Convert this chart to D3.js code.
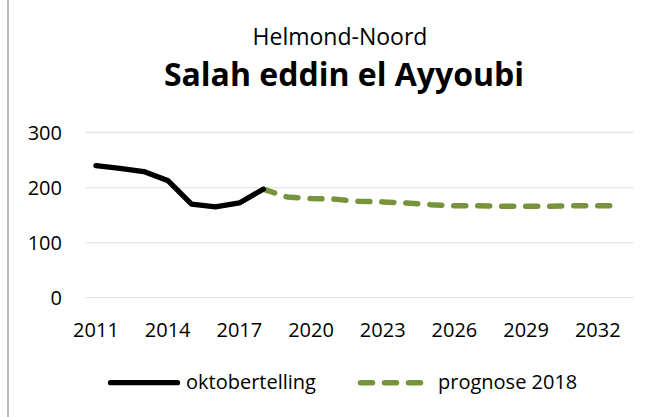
<!DOCTYPE html>
<html>
<head>
<meta charset="utf-8">
<script src="https://cdn.jsdelivr.net/npm/d3@7"></script>
<style>
  html, body { margin: 0; padding: 0; background: #fff; }
  svg { display: block; }
  text { font-family: "Open Sans", "Noto Sans", sans-serif; fill: #000; }
</style>
</head>
<body>
<svg id="chart" width="656" height="417"></svg>
<script>
// ---- data ----
const years = [2011, 2012, 2013, 2014, 2015, 2016, 2017, 2018, 2019, 2020, 2021, 2022,
               2023, 2024, 2025, 2026, 2027, 2028, 2029, 2030, 2031, 2032, 2033];
const tellingYears = [2011, 2012, 2013, 2014, 2015, 2016, 2017, 2018];
const tellingValues = [240, 235, 229, 213, 170, 165, 172, 197];
const prognoseYears = [2018, 2019, 2020, 2021, 2022, 2023, 2024, 2025, 2026, 2027,
                       2028, 2029, 2030, 2031, 2032, 2033];
const prognoseValues = [197, 183, 180, 179, 175, 174, 172, 169, 167, 167,
                        166, 166, 166, 167, 167, 167];
const xTickLabels = [2011, 2014, 2017, 2020, 2023, 2026, 2029, 2032];
const yTickLabels = [0, 100, 200, 300];
const subtitle = "Helmond-Noord";
const title = "Salah eddin el Ayyoubi";
const seriesNames = ["oktobertelling", "prognose 2018"];

(function () {
// ---- layout ----
const svg = d3.select("#chart");
const plotLeft = 84, plotRight = 633.6, plotTop = 132.5, plotBottom = 297.7;
const green = "#77933C";

// chart area left border
svg.append("line").attr("x1", 8).attr("x2", 8).attr("y1", 0).attr("y2", 417)
  .attr("stroke", "#a6a6a6").attr("stroke-width", 1.5);

const x = d3.scaleBand().domain(years).range([plotLeft, plotRight]);
const y = d3.scaleLinear().domain([0, 300]).range([plotBottom, plotTop]);
const cx = d => x(d) + x.bandwidth() / 2;

// gridlines
svg.append("g").selectAll("line").data(yTickLabels).join("line")
  .attr("x1", plotLeft + 1).attr("x2", plotRight)
  .attr("y1", d => y(d)).attr("y2", d => y(d))
  .attr("stroke", "#e6e6e6").attr("stroke-width", 1.3);

// y axis
const yAxis = svg.append("g").attr("transform", `translate(${62},0)`)
  .call(d3.axisLeft(y).tickValues(yTickLabels).tickSize(0).tickPadding(0));
yAxis.select(".domain").remove();
yAxis.selectAll("text").style("font-size", "20px").style("font-family", '"Open Sans", sans-serif')
  .attr("fill", "#000").attr("dy", "0.35em");

// x axis
const xAxis = svg.append("g").attr("transform", `translate(0,${plotBottom})`)
  .call(d3.axisBottom(x).tickValues(xTickLabels).tickSize(0).tickPadding(0));
xAxis.select(".domain").remove();
xAxis.selectAll("text").style("font-size", "20px").style("font-family", '"Open Sans", sans-serif')
  .attr("fill", "#000").attr("y", 39).attr("dy", 0);

// lines
const line = d3.line().x(d => cx(d[0])).y(d => y(d[1]));
svg.append("path")
  .datum(prognoseYears.map((yr, i) => [yr, prognoseValues[i]]))
  .attr("d", line).attr("fill", "none").attr("stroke", green)
  .attr("stroke-width", 5.5).attr("stroke-dasharray", "12,12")
  .attr("stroke-linecap", "round").attr("stroke-linejoin", "round");
svg.append("path")
  .datum(tellingYears.map((yr, i) => [yr, tellingValues[i]]))
  .attr("d", line).attr("fill", "none").attr("stroke", "#000")
  .attr("stroke-width", 5.3).attr("stroke-linecap", "round").attr("stroke-linejoin", "round");

// titles
svg.append("text").attr("x", 340).attr("y", 45).attr("text-anchor", "middle")
  .style("font-size", "23px").text(subtitle);
svg.append("text").attr("x", 344).attr("y", 86).attr("text-anchor", "middle")
  .style("font-size", "32px").style("font-weight", "bold").text(title);

// legend
const ly = 382.7;
svg.append("line").attr("x1", 110.5).attr("x2", 177.5).attr("y1", ly).attr("y2", ly)
  .attr("stroke", "#000").attr("stroke-width", 5.3).attr("stroke-linecap", "round");
svg.append("text").attr("x", 186).attr("y", 389).style("font-size", "20px").text(seriesNames[0]);
svg.append("line").attr("x1", 360.5).attr("x2", 427.5).attr("y1", ly).attr("y2", ly)
  .attr("stroke", green).attr("stroke-width", 5.5).attr("stroke-dasharray", "12,12")
  .attr("stroke-linecap", "round");
svg.append("text").attr("x", 438).attr("y", 389).style("font-size", "20px").text(seriesNames[1]);
})();
</script>
</body>
</html>
